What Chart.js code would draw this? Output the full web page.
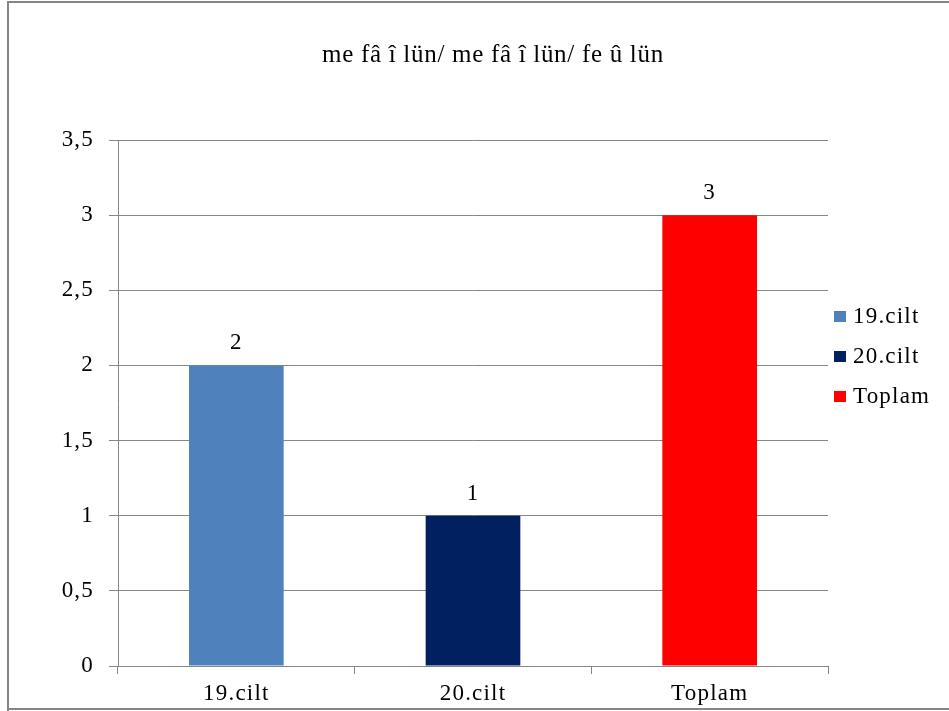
<!DOCTYPE html>
<html>
<head>
<meta charset="utf-8">
<script src="https://cdn.jsdelivr.net/npm/chart.js@4.4.1/dist/chart.umd.min.js"></script>
<style>
  html, body { margin: 0; padding: 0; background: #fff; }
  #wrap { position: relative; width: 949px; height: 711px; }
</style>
</head>
<body>
<div id="wrap"><canvas id="myChart" width="949" height="711"></canvas></div>
<script>
// chart data
let chartTitle = 'me fâ î lün/ me fâ î lün/ fe û lün';
let categories = ['19.cilt', '20.cilt', 'Toplam'];
let counts = [2, 1, 3];
let barColors = ['#4F81BD', '#002060', '#FF0000'];
let yTicks = [0, 0.5, 1, 1.5, 2, 2.5, 3, 3.5];

const serif = "'Liberation Serif', 'Times New Roman', serif";
const spacing = '1.2px';

// frame, title, value labels and legend
const decorPlugin = {
    id: 'decor',
    beforeDraw: (chart) => {
        let c = chart.ctx;
        c.save();
        c.fillStyle = '#fff';
        c.fillRect(0, 0, chart.width, chart.height);
        c.strokeStyle = '#868686';
        c.lineWidth = 2;
        c.beginPath();
        c.moveTo(8, 711);
        c.lineTo(8, 2);
        c.lineTo(949, 2);
        c.moveTo(8, 709);
        c.lineTo(949, 709);
        c.stroke();
        c.restore();
        // the old office renderer spaces its letters a bit wider
        c.letterSpacing = spacing;
    },
    afterDraw: (chart) => {
        let c = chart.ctx;
        c.save();
        c.letterSpacing = '0.7px';
        c.fillStyle = '#000';
        c.font = '25px ' + serif;
        c.textAlign = 'center';
        c.textBaseline = 'middle';
        c.fillText(chartTitle, 493, 55);

        // value labels over bars
        c.letterSpacing = spacing;
        c.font = '23px ' + serif;
        c.textBaseline = 'alphabetic';
        chart.getDatasetMeta(0).data.forEach((bar, i) => {
            c.fillText(String(counts[i]), bar.x, bar.y - 16);
        });

        // legend
        c.textAlign = 'left';
        c.textBaseline = 'alphabetic';
        categories.forEach((name, i) => {
            let y = 316 + i * 40;
            c.fillStyle = barColors[i];
            c.fillRect(834, y - 5, 12, 11);
            c.fillStyle = '#000';
            c.fillText(name, 853, y + 7);
        });
        c.restore();
    }
};

let ctx = document.getElementById('myChart').getContext('2d');
let myChart = new Chart(ctx, {
    type: 'bar',
    data: {
        labels: categories,
        datasets: [{
            label: 'Seri',
            data: counts,
            backgroundColor: barColors,
            borderWidth: 0,
            barPercentage: 0.4,
            categoryPercentage: 1
        }]
    },
    options: {
        responsive: false,
        animation: false,
        layout: { padding: { left: 0, right: 121, top: 140, bottom: 0 } },
        plugins: {
            legend: { display: false },
            title: { display: false },
            tooltip: { enabled: false }
        },
        scales: {
            x: {
                offset: true,
                grid: {
                    offset: true,
                    drawOnChartArea: false,
                    color: '#868686',
                    tickLength: 8
                },
                border: { color: '#868686' },
                ticks: {
                    color: '#000',
                    padding: 6,
                    font: { family: serif, size: 23 }
                },
                afterFit: (axis) => { axis.height = 45; }
            },
            y: {
                min: 0,
                max: 3.5,
                afterBuildTicks: (axis) => {
                    axis.ticks = yTicks.map(v => ({ value: v }));
                },
                grid: {
                    color: '#868686',
                    tickLength: 9
                },
                border: { color: '#868686' },
                ticks: {
                    color: '#000',
                    padding: 15,
                    font: { family: serif, size: 23 },
                    callback: (v) => String(v).replace('.', ',')
                },
                afterFit: (axis) => { axis.width = 118; }
            }
        }
    },
    plugins: [decorPlugin]
});
</script>
</body>
</html>
